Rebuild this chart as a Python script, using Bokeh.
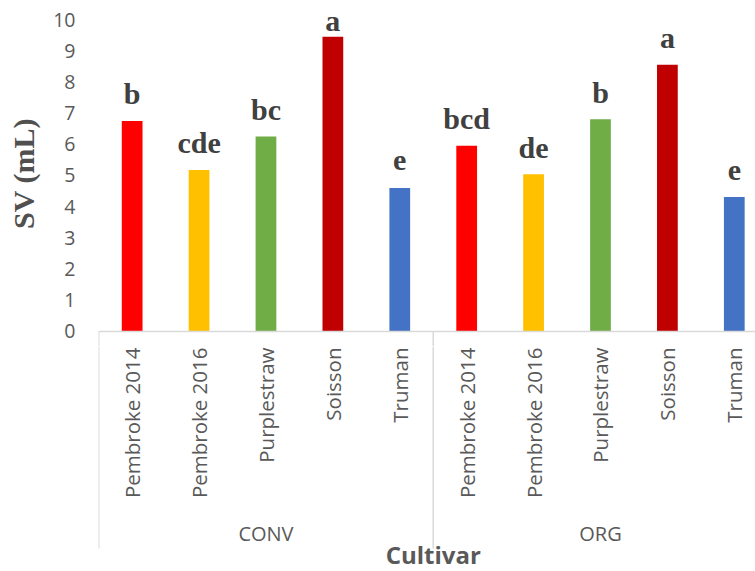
import numpy as np
from bokeh.plotting import figure
from bokeh.layouts import column
from bokeh.models import ColumnDataSource, Range1d, FixedTicker, Span
from bokeh.core.properties import value
from bokeh.embed import file_html
from bokeh.resources import INLINE

# ---- data ----
groups = ["CONV", "ORG"]
cultivars = ["Pembroke 2014", "Pembroke 2016", "Purplestraw", "Soisson", "Truman"]
conv_sv = [6.75, 5.18, 6.25, 9.45, 4.60]
org_sv = [5.95, 5.04, 6.80, 8.55, 4.31]
conv_letters = ["b", "cde", "bc", "a", "e"]
org_letters = ["bcd", "de", "b", "a", "e"]
bar_colors = ["#FF0000", "#FFC000", "#70AD47", "#C00000", "#4472C4"]
y_ticks = [0, 1, 2, 3, 4, 5, 6, 7, 8, 9, 10]

# ---- build tables ----
n = len(cultivars)
xs = list(range(2 * n))
vals = conv_sv + org_sv
letters = conv_letters + org_letters
colors = bar_colors * 2
names = cultivars * 2
# Excel keeps data labels inside the plot area: labels near the top are pushed down
offs = [-16 if v > 9.2 else -27 for v in vals]
src = ColumnDataSource(dict(x=xs, v=vals, letter=letters, color=colors, off=offs))
group_x = [(n - 1) / 2, n + (n - 1) / 2]
bounds = [-0.5, n - 0.5, 2 * n - 0.5]
mid_x = [(2 * n - 1) / 2]

GRAY = "#595959"
LINE = "#d9d9d9"

# ---- bars panel ----
xr = Range1d(-0.503, 9.317)
p = figure(width=755, height=346, output_backend="svg", toolbar_location=None,
           x_range=xr, y_range=Range1d(-0.481, 10.609), x_axis_location=None,
           min_border_left=98, min_border_right=0, min_border_top=0, min_border_bottom=0)
p.outline_line_color = None
p.xgrid.visible = False
p.ygrid.visible = False

p.vbar(x="x", top="v", bottom=0, width=0.31, fill_color="color", line_color=None, source=src)
p.text(x="x", y="v", text="letter", source=src, text_font=value("Liberation Serif"),
       text_font_style="bold", text_font_size="30px", text_align="center",
       text_baseline="alphabetic", y_offset="off", text_color="#404040")
p.add_layout(Span(location=0, dimension="width", line_color=LINE, line_width=1.5))
p.ray(x=bounds, y=0, length=40, length_units="screen", angle=-np.pi / 2,
      line_color=LINE, line_width=1.5)

ya = p.yaxis[0]
ya.ticker = FixedTicker(ticks=y_ticks)
ya.axis_line_color = None
ya.major_tick_out = 0
ya.major_tick_in = 0
ya.minor_tick_out = 0
ya.minor_tick_in = 0
ya.major_label_standoff = 23
ya.major_label_text_font = "Open Sans"
ya.major_label_text_font_size = "19.5px"
ya.major_label_text_color = GRAY
ya.axis_label = "SV (mL)"
ya.axis_label_text_font = "Liberation Serif"
ya.axis_label_text_font_style = "bold"
ya.axis_label_text_font_size = "30px"
ya.axis_label_text_color = "#505050"
ya.axis_label_standoff = 10

# ---- category labels panel ----
q = figure(width=755, height=225, output_backend="svg", toolbar_location=None,
           x_range=xr, y_range=Range1d(0, 1), x_axis_location=None, y_axis_location=None,
           min_border_left=98, min_border_right=0, min_border_top=0, min_border_bottom=0)
q.outline_line_color = None
q.xgrid.visible = False
q.ygrid.visible = False

q.ray(x=bounds, y=1, length=202, length_units="screen", angle=-np.pi / 2,
      line_color=LINE, line_width=1.5)
q.text(x=xs, y=1, text=names, angle=np.pi / 2, y_offset=1,
       text_font=value("Open Sans"), text_font_size="20.5px", text_color=GRAY,
       text_align="right", text_baseline="middle")
q.text(x=group_x, y=1, text=groups, y_offset=187,
       text_font=value("Open Sans"), text_font_size="20px", text_color=GRAY,
       text_align="center", text_baseline="middle")
q.text(x=mid_x, y=1, text=["Cultivar"], y_offset=208,
       text_font=value("Open Sans"), text_font_style="bold", text_font_size="24px",
       text_color=GRAY, text_align="center", text_baseline="middle")

layout = column(p, q, spacing=0)
open("out.html", "w").write(file_html(layout, INLINE))
